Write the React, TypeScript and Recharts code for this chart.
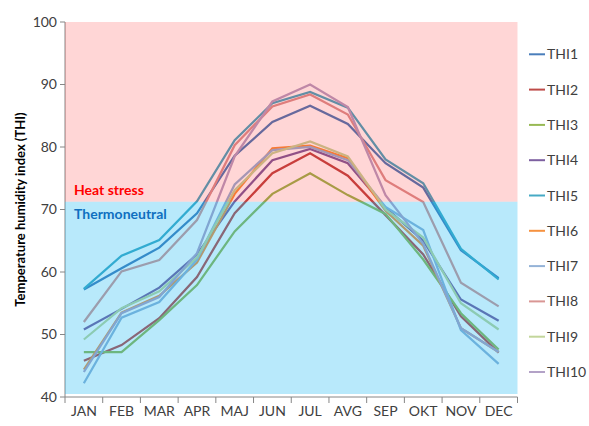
import { LineChart, Line, XAxis, YAxis, ReferenceArea } from 'recharts'

const months = ['JAN', 'FEB', 'MAR', 'APR', 'MAJ', 'JUN', 'JUL', 'AVG', 'SEP', 'OKT', 'NOV', 'DEC']

const thi1 = [57.2, 60.6, 63.9, 69.4, 78.6, 84.0, 86.6, 83.7, 77.4, 73.5, 63.5, 59.0]
const thi2 = [45.8, 48.3, 52.6, 59.2, 69.4, 75.8, 79.0, 75.4, 69.1, 62.8, 52.9, 47.1]
const thi3 = [47.2, 47.2, 52.3, 57.9, 66.5, 72.5, 75.8, 72.3, 69.3, 62.0, 53.4, 47.6]
const thi4 = [50.8, 54.1, 57.5, 62.8, 71.3, 77.9, 79.7, 77.4, 70.3, 65.0, 55.6, 52.2]
const thi5 = [57.3, 62.6, 65.1, 71.3, 81.1, 87.0, 88.8, 86.3, 78.0, 74.2, 63.7, 58.8]
const thi6 = [44.4, 53.5, 56.2, 61.5, 72.5, 79.8, 80.2, 78.2, 69.8, 64.2, 51.0, 47.2]
const thi7 = [42.2, 52.7, 55.2, 62.0, 74.0, 79.5, 80.0, 77.9, 70.4, 66.7, 50.7, 45.3]
const thi8 = [52.0, 60.1, 61.9, 68.3, 80.3, 86.5, 88.4, 85.2, 74.7, 71.2, 58.3, 54.5]
const thi9 = [49.2, 54.2, 56.9, 62.3, 73.1, 79.0, 80.9, 78.5, 70.0, 65.5, 55.0, 50.8]
const thi10 = [44.0, 53.4, 56.0, 63.0, 78.5, 87.3, 90.0, 86.4, 72.3, 64.5, 51.0, 47.2]

const seriesNames = ['THI1', 'THI2', 'THI3', 'THI4', 'THI5', 'THI6', 'THI7', 'THI8', 'THI9', 'THI10']
const seriesValues = [thi1, thi2, thi3, thi4, thi5, thi6, thi7, thi8, thi9, thi10]
const seriesColors = [
  '#4A7EBB', '#BE4B48', '#98B954', '#7D60A0', '#46AAC5',
  '#F69240', '#95B3D7', '#D99694', '#C3D69B', '#B3A2C7'
]

const yTicks = [40, 50, 60, 70, 80, 90, 100]
const zoneLimit = 71.25

const data = months.map((m, i) => {
  const row: any = { month: m }
  seriesNames.forEach((n, k) => {
    row[n] = seriesValues[k][i]
  })
  return row
})

const FONT = 'Lato, "Open Sans", sans-serif'
const W = 589
const H = 426
const MARGIN = { top: 22, right: 71.5, bottom: 0, left: 0 }
const Y_W = 65
const X_H = 29
const BAND = (W - MARGIN.left - Y_W - MARGIN.right) / months.length

const MonthTick = ({ x, y, payload, index }: any) => {
  const left = x - BAND / 2
  return (
    <g>
      <line x1={left} y1={y} x2={left} y2={y + 6} stroke="#868686" />
      {index === months.length - 1 && (
        <line x1={x + BAND / 2} y1={y} x2={x + BAND / 2} y2={y + 6} stroke="#868686" />
      )}
      <text x={x} y={y + 19} textAnchor="middle" fontSize={14} fill="#404040" fontFamily={FONT}>
        {payload.value}
      </text>
    </g>
  )
}

const ZoneLabel = (text: string, color: string, below: boolean) => (props: any) => {
  const vb = props.viewBox
  const y = below ? vb.y + vb.height - 7 : vb.y + 17
  return (
    <text x={vb.x + 9} y={y} fill={color} fontSize={14} fontWeight="bold" fontFamily={FONT}>
      {text}
    </text>
  )
}

const LegendBox = () => (
  <svg width={W} height={H} style={{ position: 'absolute', left: 0, top: 0, pointerEvents: 'none' }}>
    {seriesNames.map((n, i) => {
      const cy = 54.3 + i * 35.3
      return (
        <g key={n}>
          <line x1={529} y1={cy} x2={545} y2={cy} stroke={seriesColors[i]} strokeWidth={2} />
          <text x={547} y={cy + 5} fontSize={14} fill="#404040" fontFamily={FONT}>
            {n}
          </text>
        </g>
      )
    })}
  </svg>
)

export default function App() {
  return (
    <div style={{ position: 'absolute', left: 0, top: 0, width: W, height: H, background: '#fff' }}>
      <LineChart width={W} height={H} data={data} margin={MARGIN}>
        <XAxis
          dataKey="month"
          scale="band"
          height={X_H}
          tickLine={false}
          tickSize={0}
          tickMargin={0}
          stroke="#868686"
          interval={0}
          tick={<MonthTick />}
        />
        <YAxis
          domain={[40, 100]}
          ticks={yTicks}
          width={Y_W}
          stroke="#868686"
          tickSize={5}
          tickMargin={3}
          interval={0}
          tick={{ fontSize: 14, fill: '#404040', fontFamily: FONT }}
          label={{
            value: 'Temperature humidity index (THI)',
            angle: -90,
            position: 'insideLeft',
            offset: 20,
            style: { textAnchor: 'middle', fontSize: 13, fontWeight: 'bold', fill: '#000', fontFamily: FONT }
          }}
        />
        {seriesNames.map((n, i) => (
          <Line
            key={n}
            dataKey={n}
            type="linear"
            stroke={seriesColors[i]}
            strokeWidth={2.25}
            dot={false}
            activeDot={false}
            isAnimationActive={false}
          />
        ))}
        <ReferenceArea
          y1={zoneLimit}
          y2={100}
          fill="#FF0000"
          fillOpacity={0.16}
          stroke="none"
          zIndex={600}
          label={ZoneLabel('Heat stress', '#FF0000', true)}
        />
        <ReferenceArea
          y1={40.5}
          y2={zoneLimit}
          fill="#00B0F0"
          fillOpacity={0.28}
          stroke="none"
          zIndex={600}
          label={ZoneLabel('Thermoneutral', '#0F6FC0', false)}
        />
      </LineChart>
      <LegendBox />
    </div>
  )
}
